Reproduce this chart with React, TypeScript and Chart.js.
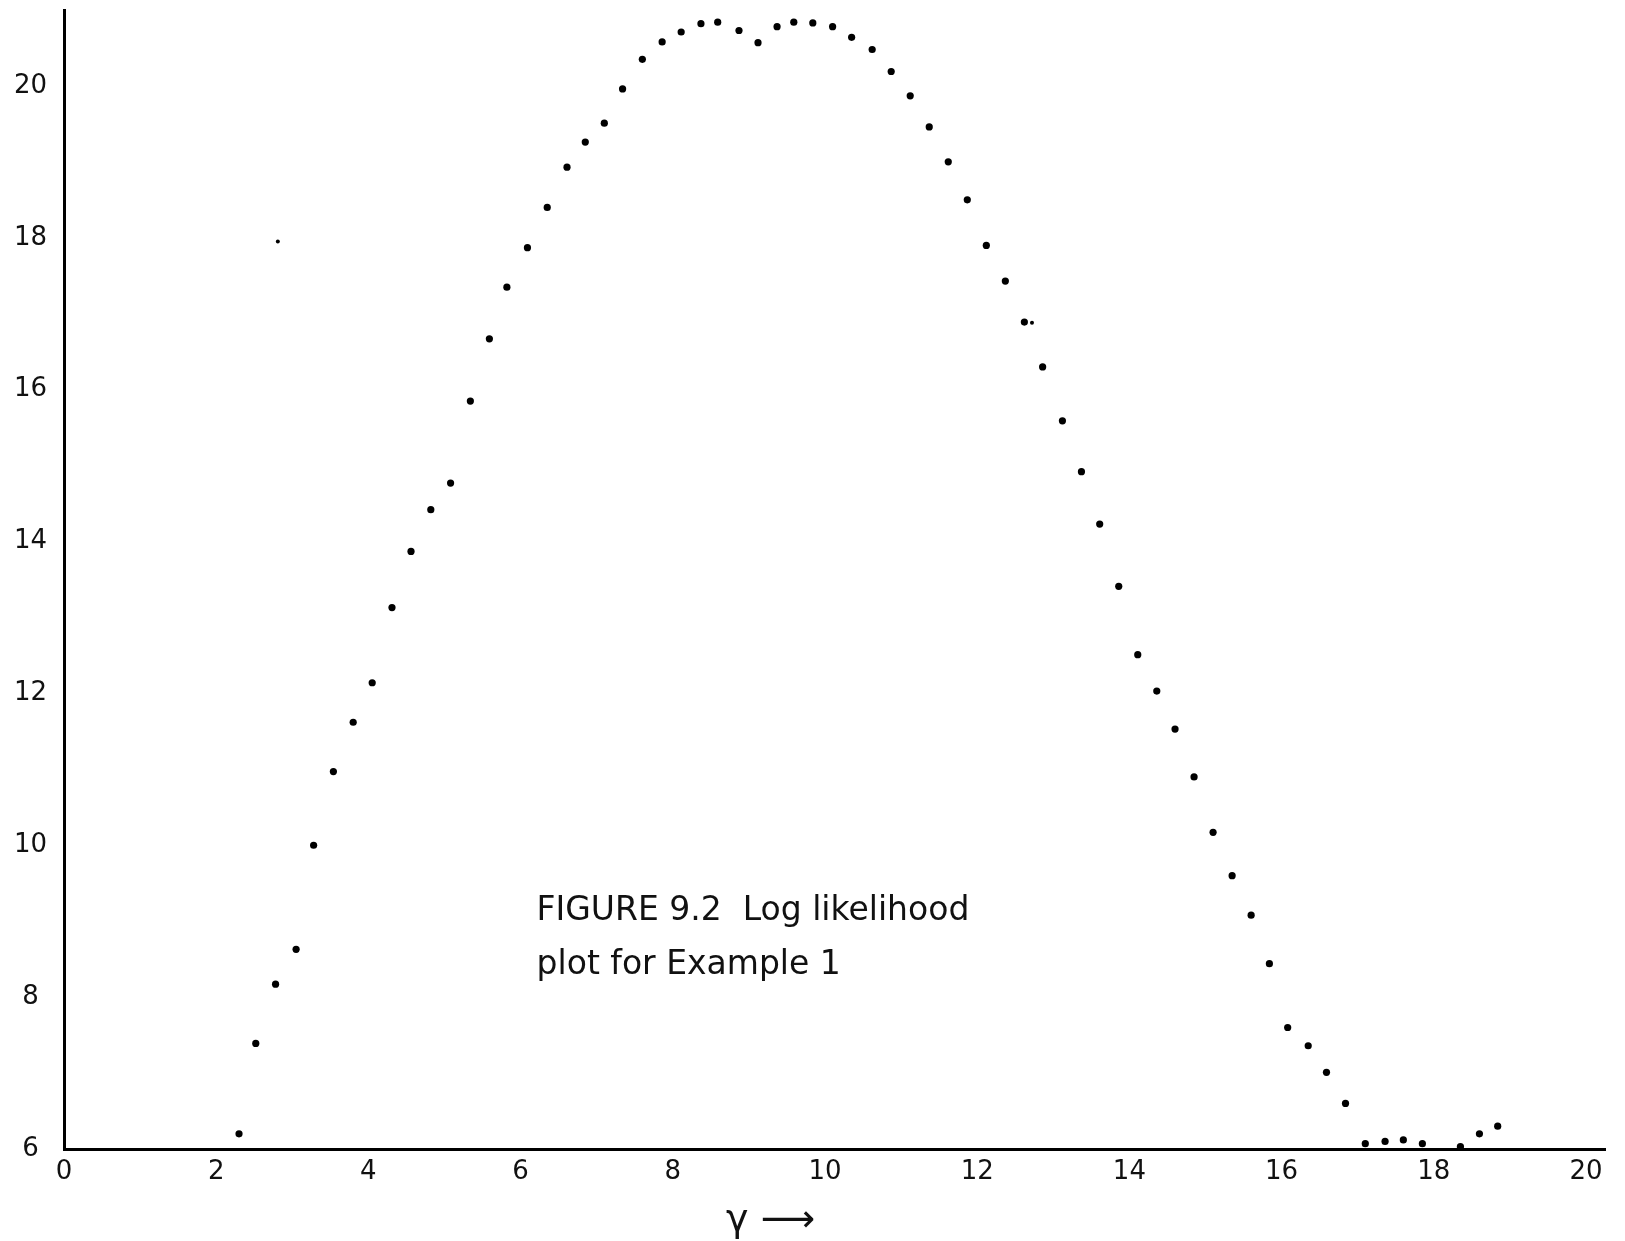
import React, { useEffect, useRef } from "react";
import { Chart, registerables } from "chart.js";

Chart.register(...registerables);

// gamma values (x)
const gammaValues: number[] = [
  2.3, 2.52, 2.78, 3.05, 3.28, 3.54, 3.8, 4.05, 4.31, 4.56, 4.82, 5.08, 5.34, 5.59,
  5.82, 6.09, 6.35, 6.61, 6.85, 7.1, 7.34, 7.6, 7.86, 8.11, 8.37, 8.59, 8.87, 9.12,
  9.37, 9.59, 9.84, 10.1, 10.35, 10.62, 10.87, 11.12, 11.37, 11.62, 11.87, 12.12,
  12.37, 12.62, 12.86, 13.12, 13.37, 13.61, 13.86, 14.11, 14.36, 14.6, 14.85, 15.1,
  15.35, 15.6, 15.84, 16.08, 16.35, 16.59, 16.84, 17.1, 17.36, 17.6, 17.85, 18.35,
  18.6, 18.84,
];

// log likelihood values (y)
const logLikValues: number[] = [
  6.2, 7.39, 8.17, 8.63, 10.0, 10.97, 11.62, 12.14, 13.13, 13.87, 14.42, 14.77, 15.85,
  16.67, 17.35, 17.87, 18.4, 18.93, 19.26, 19.51, 19.96, 20.35, 20.58, 20.71, 20.82,
  20.84, 20.73, 20.57, 20.78, 20.84, 20.83, 20.78, 20.64, 20.48, 20.19, 19.87, 19.46,
  19.0, 18.5, 17.9, 17.43, 16.89, 16.3, 15.59, 14.92, 14.23, 13.41, 12.51, 12.03,
  11.53, 10.9, 10.17, 9.6, 9.08, 8.44, 7.6, 7.36, 7.01, 6.6, 6.07, 6.1, 6.12, 6.07,
  6.03, 6.2, 6.3,
];

// small stray marks visible on the sheet
const strayX: number[] = [12.72, 2.81];
const strayY: number[] = [16.88, 17.95];

const xTickLabels: number[] = [0, 2, 4, 6, 8, 10, 12, 14, 16, 18, 20];
const yTickLabels: number[] = [6, 8, 10, 12, 14, 16, 18, 20];

const captionLines: string[] = ["FIGURE 9.2  Log likelihood", "plot for Example 1"];
const xAxisTitle = "γ ⟶";

const FONT = "'DejaVu Sans', sans-serif";

export default function App() {
  const canvasRef = useRef<HTMLCanvasElement | null>(null);

  useEffect(() => {
    const canvas = canvasRef.current;
    if (!canvas) return;

    const captionPlugin = {
      id: "captionPlugin",
      afterDraw(chart: any) {
        const ctx = chart.ctx;
        const xs = chart.scales.x;
        const ys = chart.scales.y;
        ctx.save();
        ctx.fillStyle = "#111";
        ctx.textAlign = "left";
        ctx.textBaseline = "alphabetic";
        ctx.font = `33px ${FONT}`;
        const cx = xs.getPixelForValue(6.21);
        ctx.fillText(captionLines[0], cx, ys.getPixelForValue(9.02));
        ctx.fillText(captionLines[1], cx, ys.getPixelForValue(8.31));
        ctx.font = `38px ${FONT}`;
        ctx.fillText(xAxisTitle, xs.getPixelForValue(8.7), chart.height - 10);
        ctx.restore();
      },
    };

    const zeroPad = (scale: any) => {
      scale.paddingTop = 0;
      scale.paddingBottom = 0;
      scale.paddingLeft = 0;
      scale.paddingRight = 0;
    };

    const chart = new Chart(canvas, {
      type: "scatter",
      data: {
        datasets: [
          {
            label: "Log likelihood",
            data: gammaValues.map((x, i) => ({ x, y: logLikValues[i] })),
            pointRadius: 3.6,
            pointBackgroundColor: "#000",
            pointBorderWidth: 0,
            showLine: false,
          },
          {
            label: "marks",
            data: strayX.map((x, i) => ({ x, y: strayY[i] })),
            pointRadius: 2,
            pointBackgroundColor: "#000",
            pointBorderWidth: 0,
            showLine: false,
          },
        ],
      },
      options: {
        animation: false,
        responsive: false,
        maintainAspectRatio: false,
        layout: { padding: { top: 10, right: 20, left: 0, bottom: 0 } },
        plugins: {
          legend: { display: false },
          tooltip: { enabled: false },
          title: { display: false },
        },
        scales: {
          x: {
            type: "linear",
            min: 0,
            max: 20.25,
            grid: { display: false, drawTicks: false },
            border: { display: true, color: "#000", width: 3 },
            ticks: {
              color: "#111",
              font: { family: FONT, size: 26 },
              padding: 8,
              callback: (v: any) => String(v),
            },
            afterBuildTicks: (scale: any) => {
              scale.ticks = xTickLabels.map((v) => ({ value: v }));
            },
            afterFit: (scale: any) => {
              scale.height = 92;
              zeroPad(scale);
            },
          },
          y: {
            type: "linear",
            min: 6,
            max: 21,
            grid: { display: false, drawTicks: false },
            border: { display: true, color: "#000", width: 3 },
            ticks: {
              color: "#111",
              font: { family: FONT, size: 26 },
              padding: 17,
              crossAlign: "center",
              callback: (v: any) => String(v),
            },
            afterBuildTicks: (scale: any) => {
              scale.ticks = yTickLabels.map((v) => ({ value: v }));
            },
            afterFit: (scale: any) => {
              scale.width = 64;
              zeroPad(scale);
            },
          },
        },
      },
      plugins: [captionPlugin],
    } as any);

    return () => chart.destroy();
  }, []);

  return (
    <div style={{ position: "absolute", left: 0, top: 0, width: 1625, height: 1241, background: "#fff" }}>
      <canvas ref={canvasRef} width={1625} height={1241} style={{ display: "block" }} />
    </div>
  );
}
